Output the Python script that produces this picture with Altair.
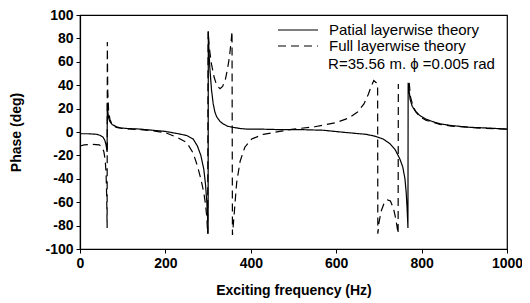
import altair as alt
import pandas as pd

# Partial layerwise theory (solid)
f_partial = [0, 20, 40, 48, 54, 58, 61, 63, 63.5, 64, 65, 67, 70, 75, 85, 95, 110, 140, 170, 200,
             230, 250, 265, 275, 283, 290, 294, 297, 299, 300, 300.5, 302, 304, 308, 312, 316, 320,
             328, 335, 345, 358, 375, 390, 420, 470, 520, 570, 610, 640, 670, 690, 710, 726, 738,
             749, 756, 761, 764, 766, 768, 768.5, 770, 773, 778, 785, 796, 810, 825, 843, 870, 913,
             950, 1000]
p_partial = [-1.5, -1.5, -2, -3, -4.5, -7, -11, -16, -17, 25, 18, 12, 9, 6.5, 4.5, 3.5, 3, 2.5, 1.5, 0.5,
             -1.5, -3, -6, -12, -20, -32, -45, -60, -75, -87, 86, 70, 55, 36, 24, 17, 13,
             9, 7, 5, 4, 3, 2.5, 2.5, 2, 2, 1.5, 0, -1, -2, -3.5, -6, -10, -15,
             -23, -30, -40, -52, -65, -82, 42, 38, 28, 22, 18, 14, 11, 9, 7, 5.5, 4,
             3.5, 2.5]

# Full layerwise theory (dashed), first part
f_full_a = [0, 10, 30, 45, 52, 56, 59, 61, 62.5, 63.5, 64, 65, 67, 70, 75, 85, 100, 140, 170, 200,
            230, 250, 265, 275, 283, 290, 294, 297, 299, 300, 302, 305, 308, 314, 320, 328, 334, 340,
            345, 350, 354, 356, 357, 360, 363, 367, 375, 386, 402, 429, 468, 500, 550, 600, 630, 650,
            665, 675, 683, 688, 697, 697.5, 700, 705, 712, 720, 727, 734, 740, 745, 745.5]
p_full_a = [-12, -11, -10.5, -11, -13, -17, -24, -35, -55, -82, 77, 35, 18, 11, 6.5, 4, 3, 2, 1, -0.5,
            -5, -9, -18, -29, -40, -52, -62, -73, -87, 86, 75, 66, 58, 47, 40, 37, 39, 44,
            53, 64, 78, 86, -88, -75, -61, -43, -25, -13, -6, -2, 0.5, 2.5, 4.5, 8, 12, 17,
            24, 32, 40, 44, 41, -87, -78, -68, -61, -58, -59, -65, -75, -87, 41]
# Full layerwise theory (dashed), after the last resonance
f_full_b = [771, 774, 780, 787, 796, 810, 825, 843, 870, 913, 950, 1000]
p_full_b = [42, 30, 22, 17, 13, 10, 8.5, 6.5, 5, 4, 3, 2.5]

y_ticks = [-100, -80, -60, -40, -20, 0, 20, 40, 60, 80, 100]
x_ticks = [0, 200, 400, 600, 800, 1000]

S1 = "Patial layerwise theory"
S2 = "Full layerwise theory"
note = "R=35.56 m. \u03d5 =0.005 rad"

rows = []
for f, p in zip(f_partial, p_partial):
    rows.append({"f": f, "phase": p, "series": S1, "seg": "p"})
for f, p in zip(f_full_a, p_full_a):
    rows.append({"f": f, "phase": p, "series": S2, "seg": "a"})
for f, p in zip(f_full_b, p_full_b):
    rows.append({"f": f, "phase": p, "series": S2, "seg": "b"})
df = pd.DataFrame(rows)
df["order"] = range(len(df))

FONT = "Liberation Sans"

x_axis = alt.Axis(values=x_ticks, title="Exciting frequency (Hz)", titlePadding=13,
                  labelExpr="datum.value + ''", labelFlush=False, labelOverlap=False)
y_axis = alt.Axis(values=y_ticks, title="Phase (deg)", labelExpr="datum.value + ''",
                  titleX=-57, labelFlush=False, labelOverlap=False)
x_scale = alt.Scale(domain=[0, 1000], nice=False)
y_scale = alt.Scale(domain=[-100, 100], nice=False)

lines = alt.Chart(df).mark_line(color="black", strokeWidth=1.2).encode(
    x=alt.X("f:Q", scale=x_scale, axis=x_axis),
    y=alt.Y("phase:Q", scale=y_scale, axis=y_axis),
    strokeDash=alt.StrokeDash("series:N",
                              scale=alt.Scale(domain=[S1, S2], range=[[1, 0], [8, 5]]),
                              legend=alt.Legend(title=None, orient="none", legendX=197, legendY=7,
                                                symbolType="stroke", symbolSize=1600,
                                                clipHeight=16,
                                                symbolStrokeWidth=1.2, symbolStrokeColor="black",
                                                labelFontSize=15, labelFont=FONT, labelOffset=10,
                                                rowPadding=0, labelColor="black")),
    detail="seg:N",
    order="order:Q",
)

note_df = pd.DataFrame({"f": [581], "phase": [58], "t": [note]})
text = alt.Chart(note_df).mark_text(align="left", baseline="middle", fontSize=15, font=FONT,
                                    color="black").encode(
    x=alt.X("f:Q", scale=x_scale, axis=x_axis),
    y=alt.Y("phase:Q", scale=y_scale, axis=y_axis),
    text="t:N")

chart = alt.layer(lines, text).properties(
    width=427, height=234,
    autosize=alt.AutoSizeParams(type="none"),
    padding={"left": 72, "top": 7, "right": 15, "bottom": 52},
).configure_view(stroke="black", strokeWidth=1.2).configure_axis(
    grid=False, domainColor="black", tickColor="black", tickSize=4, labelColor="black",
    labelFont=FONT, labelFontSize=14, labelFontWeight="bold", labelPadding=3,
    titleFont=FONT, titleFontSize=14, titleFontWeight="bold", titleColor="black",
    domainWidth=1.2, labelOverlap=False,
)

chart.save("out.html", embed_options={"renderer": "svg", "actions": False})
